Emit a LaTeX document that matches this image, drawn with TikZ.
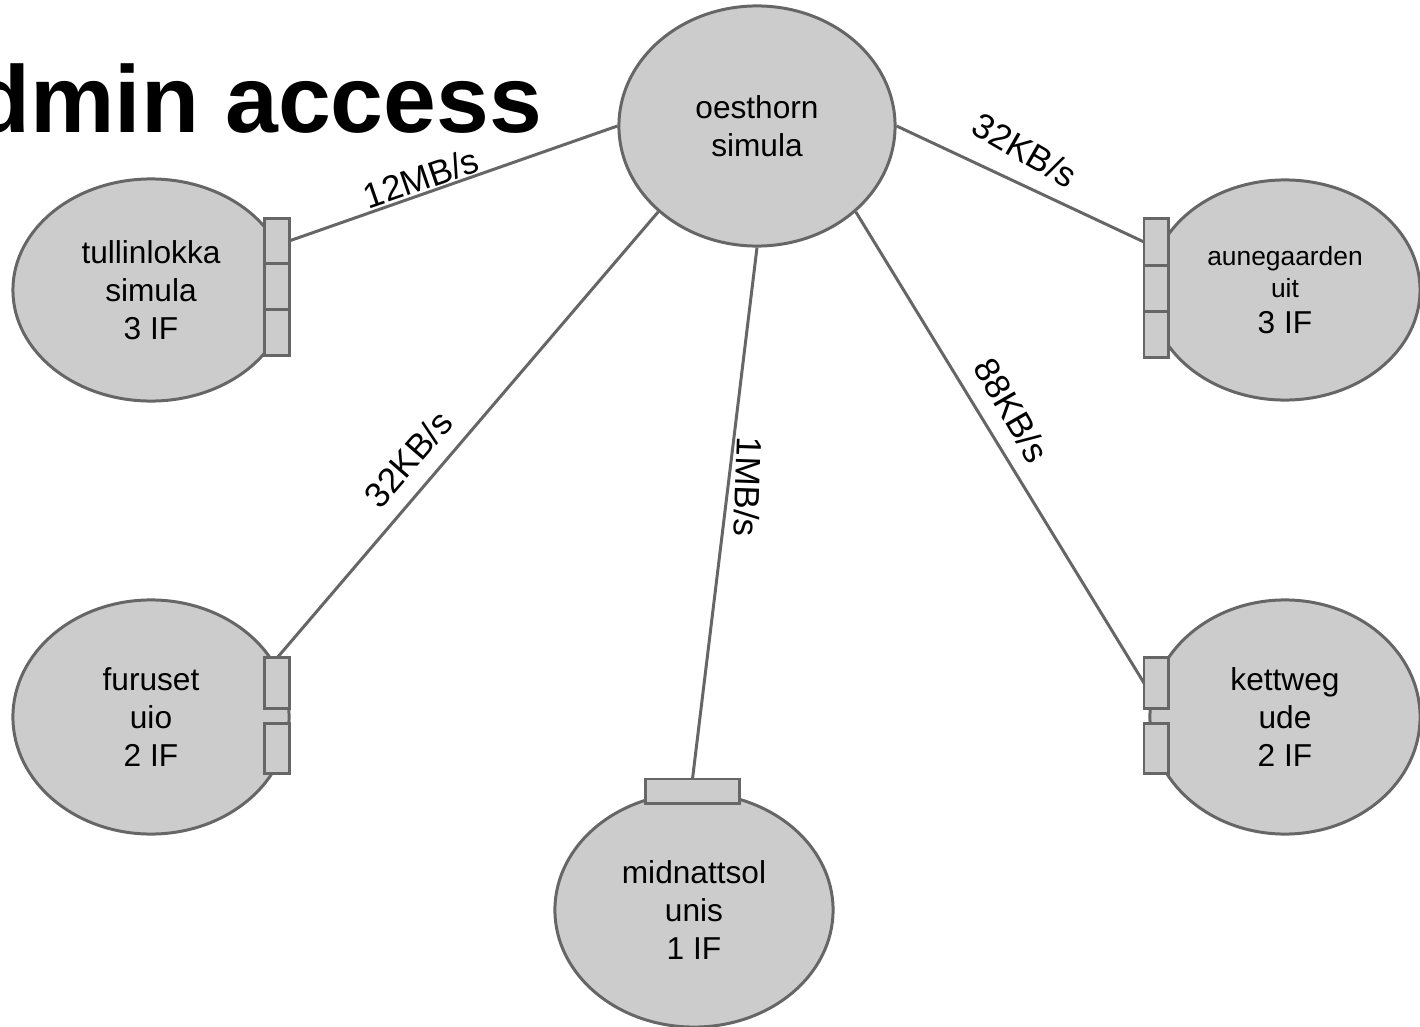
\documentclass[tikz,border=0pt]{standalone}
\usepackage{fontspec}
\setmainfont{Liberation Sans}
\usetikzlibrary{positioning,shapes.geometric}

\definecolor{hostfill}{HTML}{CCCCCC}
\definecolor{hostline}{HTML}{666666}

\tikzset{
  host/.style={ellipse, draw=hostline, fill=hostfill, line width=0.85pt,
    align=center, inner sep=0pt, font=\fontsize{9}{10.8}\selectfont},
  ifbox/.style={rectangle, draw=hostline, fill=hostfill, line width=0.85pt,
    minimum width=0.24cm, minimum height=0.457cm, inner sep=0pt, outer sep=0pt},
  link/.style={draw=hostline, line width=0.85pt},
  rate/.style={font=\fontsize{10}{12}\selectfont, inner sep=0pt},
}

\begin{document}
\begin{tikzpicture}[x=0.01cm, y=-0.01cm]
  \useasboundingbox (0,0) rectangle (1420,1027);

  % title
  \node[font=\fontsize{27}{32}\selectfont\bfseries, anchor=base east, inner sep=0pt] (title) at (543,132) {dmin access};

  % hosts
  \node[host, minimum width=2.76cm, minimum height=2.4cm] (oesthorn) at (757,126) {oesthorn\\simula};
  \node[host, minimum width=2.76cm, minimum height=2.22cm] (tullinlokka) at (151,290) {tullinlokka\\simula\\3 IF};
  \node[host, minimum width=2.70cm, minimum height=2.2cm] (aunegaarden) at (1285,290)
    {{\fontsize{7.5}{9}\selectfont aunegaarden}\\[-1.7pt]{\fontsize{7.5}{9}\selectfont uit}\\[-0.6pt]3 IF};
  \node[host, minimum width=2.76cm, minimum height=2.34cm] (furuset) at (151,717) {furuset\\uio\\2 IF};
  \node[host, minimum width=2.70cm, minimum height=2.34cm] (kettweg) at (1285,717) {kettweg\\ude\\2 IF};
  \node[host, minimum width=2.78cm, minimum height=2.34cm] (midnattsol) at (694,910) {midnattsol\\unis\\1 IF};

  % interfaces
  \node[ifbox] (tullinlokka-if1) at (277,241) {};
  \node[ifbox, below=0pt of tullinlokka-if1] (tullinlokka-if2) {};
  \node[ifbox, below=0pt of tullinlokka-if2] (tullinlokka-if3) {};

  \node[ifbox, minimum height=0.463cm] (aunegaarden-if1) at (1156,242) {};
  \node[ifbox, minimum height=0.463cm, below=0pt of aunegaarden-if1] (aunegaarden-if2) {};
  \node[ifbox, minimum height=0.463cm, below=0pt of aunegaarden-if2] (aunegaarden-if3) {};

  \node[ifbox, minimum height=0.5cm] (furuset-if1) at (277,683) {};
  \node[ifbox, minimum height=0.5cm, below=0.15cm of furuset-if1] (furuset-if2) {};

  \node[ifbox, minimum height=0.5cm] (kettweg-if1) at (1156,683) {};
  \node[ifbox, minimum height=0.5cm, below=0.15cm of kettweg-if1] (kettweg-if2) {};

  \node[ifbox, minimum width=0.93cm, minimum height=0.24cm] (midnattsol-if) at (692.5,791) {};

  % links
  \draw[link] (oesthorn.west) -- (tullinlokka-if1.east);
  \draw[link] (oesthorn.east) -- (aunegaarden-if1.west);
  \draw[link] (oesthorn.221) -- (furuset-if1.north);
  \draw[link] (oesthorn.south) -- (midnattsol-if.north);
  \draw[link] (oesthorn.-41) -- (kettweg-if1.west);

  % rates
  \node[rate, rotate=19] (rate-tullinlokka) at (421,178) {12MB/s};
  \node[rate, rotate=-30] (rate-aunegaarden) at (1025,150) {32KB/s};
  \node[rate, rotate=49] (rate-furuset) at (408,459) {32KB/s};
  \node[rate, rotate=-92] (rate-midnattsol) at (748,487) {1MB/s};
  \node[rate, rotate=-60] (rate-kettweg) at (1012,410) {88KB/s};
\end{tikzpicture}
\end{document}
